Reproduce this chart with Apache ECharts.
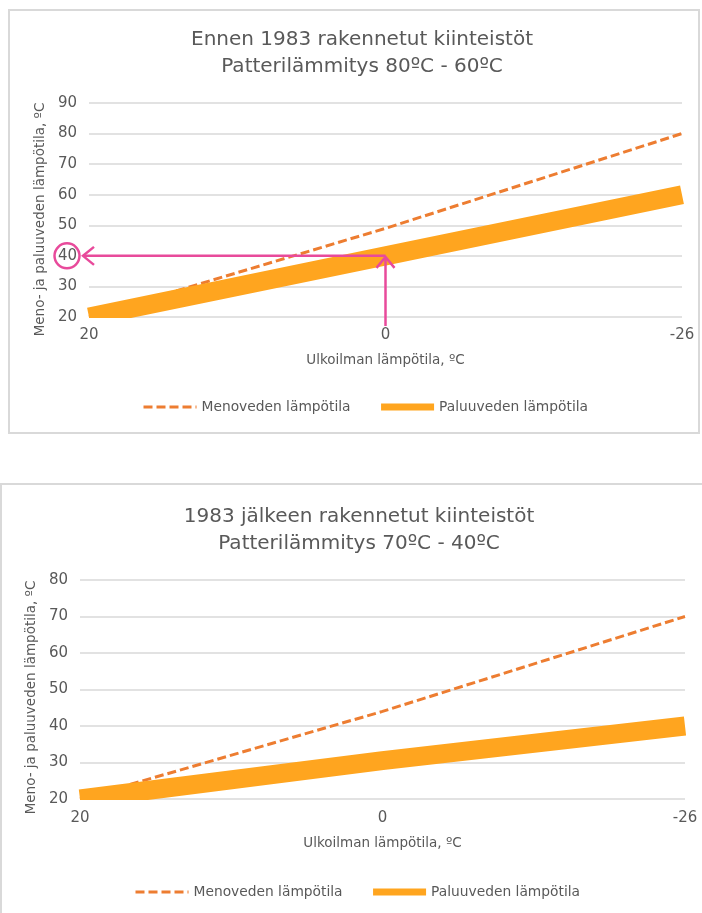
<!DOCTYPE html>
<html>
<head>
<meta charset="utf-8">
<script src="https://cdn.jsdelivr.net/npm/echarts@6/dist/echarts.min.js"></script>
<style>
  html, body { margin: 0; padding: 0; background: #fff; }
  #chart { width: 702px; height: 913px; }
</style>
</head>
<body>
<div id="chart"></div>
<script>
// ulkolämpötila, x-akseli
const outdoorTemps = ['20', '0', '-26'];
// ennen 1983 rakennetut, 80/60
const supplyOld = [20, 49, 80];
const returnOld = [20, 40, 60];
// 1983 jälkeen rakennetut, 70/40
const supplyNew = [20, 44, 70];
const returnNew = [20, 30.5, 40];
// y-akselit
const yRangeOld = [20, 90];
const yRangeNew = [20, 80];
const yStep = 10;
// nuolimerkintä ylemmässä kuvassa
const markedTemp = '0';
const markedValue = 40;

const SUPPLY = 'Menoveden lämpötila';
const RETURN = 'Paluuveden lämpötila';
const FONT = 'DejaVu Sans';
const TEXT = '#595959';
const GRIDLINE = '#d9d9d9';
const ORANGE = '#ed7d31';
const GOLD = '#ffa51f';
const PINK = '#e84a9b';

const myChart = echarts.init(document.getElementById('chart'));

function xAxisFor(gridIndex, labelGap, nameGap) {
  return {
    type: 'category',
    gridIndex: gridIndex,
    data: outdoorTemps,
    boundaryGap: false,
    axisLine: { show: false },
    axisTick: { show: false },
    axisLabel: { color: TEXT, fontSize: 15, fontFamily: FONT, margin: labelGap },
    name: 'Ulkoilman lämpötila, ºC',
    nameLocation: 'middle',
    nameGap: nameGap,
    nameTextStyle: { color: TEXT, fontSize: 13.5, fontFamily: FONT },
  };
}

function yAxisFor(gridIndex, range, shift) {
  return {
    type: 'value',
    gridIndex: gridIndex,
    min: range[0],
    max: range[1],
    interval: yStep,
    axisLine: { show: false },
    axisTick: { show: false },
    axisLabel: { color: TEXT, fontSize: 15, fontFamily: FONT, margin: 12 },
    splitLine: { lineStyle: { color: GRIDLINE, width: 1.5 } },
    name: 'Meno- ja paluuveden lämpötila, ºC',
    nameLocation: 'middle',
    nameGap: 37,
    nameTextStyle: {
      color: TEXT, fontSize: 13.5, fontFamily: FONT,
      padding: [0, shift, 0, 0], // siirtää nimeä hieman alaspäin
    },
  };
}

function seriesFor(axisIndex, supply, ret) {
  return [
    {
      name: SUPPLY,
      type: 'line',
      z: 2,
      xAxisIndex: axisIndex,
      yAxisIndex: axisIndex,
      data: supply,
      symbol: 'none',
      color: ORANGE,
      lineStyle: { color: ORANGE, width: 3, type: [9, 4], cap: 'butt' },
    },
    {
      name: RETURN,
      type: 'line',
      z: 2,
      xAxisIndex: axisIndex,
      yAxisIndex: axisIndex,
      data: ret,
      symbol: 'none',
      color: GOLD,
      lineStyle: { color: GOLD, width: 19, cap: 'butt' },
    },
  ];
}

function legendFor(left, top) {
  return {
    left: left,
    top: top,
    itemWidth: 53,
    itemHeight: 14,
    itemGap: 27,
    padding: 0,
    textStyle: { color: TEXT, fontSize: 13.8, fontFamily: FONT },
    data: [
      { name: SUPPLY, lineStyle: { width: 3 }, itemStyle: { opacity: 0 } },
      { name: RETURN, lineStyle: { width: 7 }, itemStyle: { opacity: 0 } },
    ],
  };
}

const titleStyle = {
  fontSize: 20, fontWeight: 'normal', color: TEXT, fontFamily: FONT, lineHeight: 27,
};

const option = {
  animation: false,
  backgroundColor: '#fff',
  title: [
    {
      text: 'Ennen 1983 rakennetut kiinteistöt\nPatterilämmitys 80ºC - 60ºC',
      left: 362, top: 26, padding: 0, textAlign: 'center', textStyle: titleStyle,
    },
    {
      text: '1983 jälkeen rakennetut kiinteistöt\nPatterilämmitys 70ºC - 40ºC',
      left: 359, top: 503, padding: 0, textAlign: 'center', textStyle: titleStyle,
    },
  ],
  legend: [legendFor(142, 400), legendFor(134, 885)],
  grid: [
    { left: 89, right: 20, top: 103, bottom: 596 },
    { left: 80, right: 17, top: 580, bottom: 114 },
  ],
  xAxis: [xAxisFor(0, 11, 36), xAxisFor(1, 12, 37)],
  yAxis: [yAxisFor(0, yRangeOld, 19), yAxisFor(1, yRangeNew, 16)],
  series: seriesFor(0, supplyOld, returnOld).concat(seriesFor(1, supplyNew, returnNew)),
};

myChart.setOption(option);

// kehykset, maskit ja vaaleanpunaiset nuolet
const corner0 = myChart.convertToPixel({ gridIndex: 0 }, [0, yRangeOld[0]]);
const corner1 = myChart.convertToPixel({ gridIndex: 1 }, [0, yRangeNew[0]]);
const mark = myChart.convertToPixel({ gridIndex: 0 }, [outdoorTemps.indexOf(markedTemp), markedValue]);
const arrowLeft = corner0[0] - 6;
const arrowBottom = corner0[1] + 9;
const pinkLine = { stroke: PINK, lineWidth: 2.5, fill: null };

myChart.setOption({
  graphic: [
    { type: 'rect', z: 0, shape: { x: 9, y: 10, width: 690, height: 423 },
      style: { fill: null, stroke: GRIDLINE, lineWidth: 2 }, silent: true },
    { type: 'rect', z: 0, shape: { x: 1, y: 484, width: 720, height: 500 },
      style: { fill: null, stroke: GRIDLINE, lineWidth: 2 }, silent: true },
    // paksu viiva leikataan piirtoalueen alareunaan
    { type: 'rect', z: 10, shape: { x: corner0[0] - 10, y: corner0[1] + 1, width: 60, height: 9 },
      style: { fill: '#fff' }, silent: true },
    { type: 'rect', z: 10, shape: { x: corner1[0] - 10, y: corner1[1] + 1, width: 85, height: 9 },
      style: { fill: '#fff' }, silent: true },
    { type: 'polyline', z: 12, shape: { points: [[mark[0], mark[1]], [arrowLeft, mark[1]]] }, style: pinkLine },
    { type: 'polyline', z: 12, shape: { points: [[arrowLeft + 11, mark[1] - 9], [arrowLeft, mark[1]], [arrowLeft + 11, mark[1] + 9]] }, style: pinkLine },
    { type: 'polyline', z: 12, shape: { points: [[mark[0], arrowBottom], [mark[0], mark[1] + 1]] }, style: pinkLine },
    { type: 'polyline', z: 12, shape: { points: [[mark[0] - 9, mark[1] + 12], [mark[0], mark[1] + 1], [mark[0] + 9, mark[1] + 12]] }, style: pinkLine },
    { type: 'circle', z: 12, shape: { cx: corner0[0] - 22, cy: mark[1], r: 12.5 }, style: pinkLine },
  ],
});

window.onresize = myChart.resize;
</script>
</body>
</html>
